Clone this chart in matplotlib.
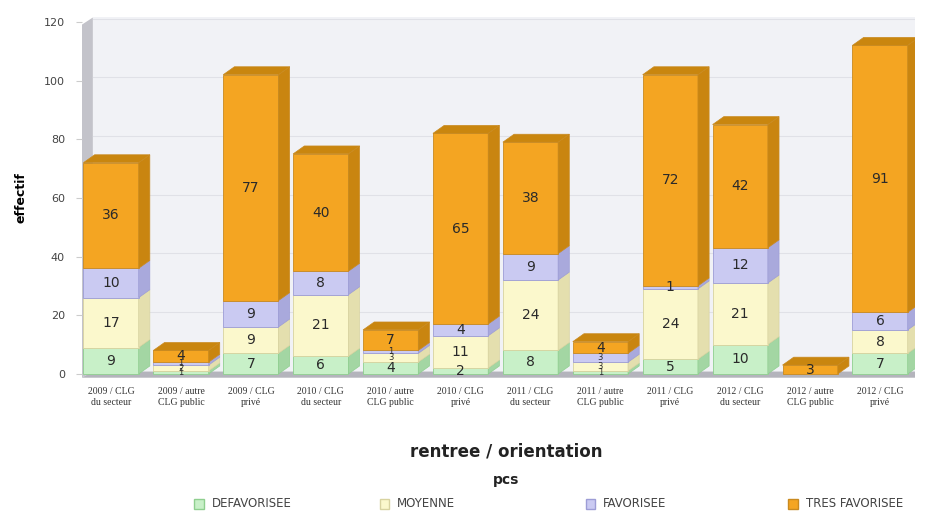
import matplotlib.pyplot as plt
from matplotlib.patches import Polygon, Rectangle

# effectifs par rentree / orientation, empiles par pcs
categories = ["2009 / CLG\ndu secteur", "2009 / autre\nCLG public", "2009 / CLG\nprivé",
              "2010 / CLG\ndu secteur", "2010 / autre\nCLG public", "2010 / CLG\nprivé",
              "2011 / CLG\ndu secteur", "2011 / autre\nCLG public", "2011 / CLG\nprivé",
              "2012 / CLG\ndu secteur", "2012 / autre\nCLG public", "2012 / CLG\nprivé"]
defavorisee = [9, 1, 7, 6, 4, 2, 8, 1, 5, 10, 0, 7]
moyenne = [17, 2, 9, 21, 3, 11, 24, 3, 24, 21, 0, 8]
favorisee = [10, 1, 9, 8, 1, 4, 9, 3, 1, 12, 0, 6]
tres_favorisee = [36, 4, 77, 40, 7, 65, 38, 4, 72, 42, 3, 91]

series = [("DEFAVORISEE", defavorisee), ("MOYENNE", moyenne),
          ("FAVORISEE", favorisee), ("TRES FAVORISEE", tres_favorisee)]
face = ["#c8f0c8", "#fbf8cc", "#cacaf2", "#f4a522"]
side = ["#a3d6a3", "#e4dfae", "#a9a9dc", "#c98510"]
edge = ["#8fcf8f", "#d8d3a0", "#9d9dd6", "#c98a20"]
top_col = "#c9860f"

w = 0.79
dx, dy = 0.16, 2.7
xl, xr = -0.42, 11.5
ylo, yhi = -1.5, 121.5

fig = plt.figure(figsize=(9.28, 5.14), dpi=100)
ax = fig.add_axes([0.088, 0.264, 0.898, 0.702])
ax.set_xlim(xl, xr)
ax.set_ylim(ylo, yhi)
ax.set_facecolor("white")

# fond, mur gauche et sol
ax.add_patch(Polygon([(xl + dx, 0.8), (xr, 0.8), (xr, yhi), (xl + dx, yhi)],
                     closed=True, fc="#f1f2f6", ec="none", zorder=0))
ax.add_patch(Polygon([(xl, -1.3), (xl + dx, 0.8), (xl + dx, yhi), (xl, yhi - 2.5)],
                     closed=True, fc="#c3c3ca", ec="none", zorder=1))
ax.add_patch(Polygon([(xl, -1.3), (xl + dx, 0.8), (xr, 0.8), (xr, -1.3)],
                     closed=True, fc="#b4b4bc", ec="none", zorder=1))
for t in range(20, 121, 20):
    ax.plot([xl + dx, xr], [t + dy * 0.4, t + dy * 0.4], color="#e0e1e7", lw=0.8, zorder=1)

n = len(categories)
for i in range(n):
    total = sum(vals[i] for _, vals in series)
    bottom = 0
    last = None
    for k, (name, vals) in enumerate(series):
        v = vals[i]
        if v == 0:
            continue
        ax.bar(i, v, bottom=bottom, width=w, color=face[k], edgecolor=edge[k],
               linewidth=0.6, zorder=3)
        ax.add_patch(Polygon([(i + w / 2, bottom), (i + w / 2 + dx, bottom + dy),
                              (i + w / 2 + dx, bottom + v + dy), (i + w / 2, bottom + v)],
                             closed=True, fc=side[k], ec=edge[k], lw=0.5, zorder=3))
        # petits segments empiles : police reduite pour limiter le chevauchement
        fs = 6 if (v < 4 and total < 20 and v != total) else 10
        ax.text(i, bottom + v / 2, str(v), ha="center", va="center",
                fontsize=fs, color="#2a2a2a", zorder=5)
        bottom += v
        last = k
    ax.add_patch(Polygon([(i - w / 2, bottom), (i - w / 2 + dx, bottom + dy),
                          (i + w / 2 + dx, bottom + dy), (i + w / 2, bottom)],
                         closed=True, fc=top_col, ec=edge[last], lw=0.5, zorder=4))

ax.set_xticks(range(n))
ax.set_xticklabels(categories, fontsize=7, family="Liberation Serif", color="#333333",
                   linespacing=1.3)
ax.tick_params(axis="x", length=0, pad=6)
ax.set_yticks(range(0, 121, 20))
ax.tick_params(axis="y", labelsize=8, labelcolor="#444444", color="#cccccc", length=4, pad=8)
for s in ax.spines.values():
    s.set_visible(False)

ax.set_ylabel("effectif", fontsize=9, fontweight="bold", labelpad=12)
fig.text(0.545, 0.122, "rentree / orientation", ha="center", va="center",
         fontsize=12, fontweight="bold", color="#222222")
fig.text(0.545, 0.066, "pcs", ha="center", va="center",
         fontsize=10, fontweight="bold", color="#222222")

# legende
leg_x = [0.228, 0.428, 0.65, 0.868]
for k, (name, vals) in enumerate(series):
    fig.patches.append(Rectangle((leg_x[k] - 0.019, 0.0105), 0.0105, 0.019,
                                 transform=fig.transFigure, fc=face[k],
                                 ec=edge[k], lw=1.0))
    fig.text(leg_x[k], 0.02, name, ha="left", va="center", fontsize=8.5, color="#444444")

fig.savefig("out.png", dpi=100)
